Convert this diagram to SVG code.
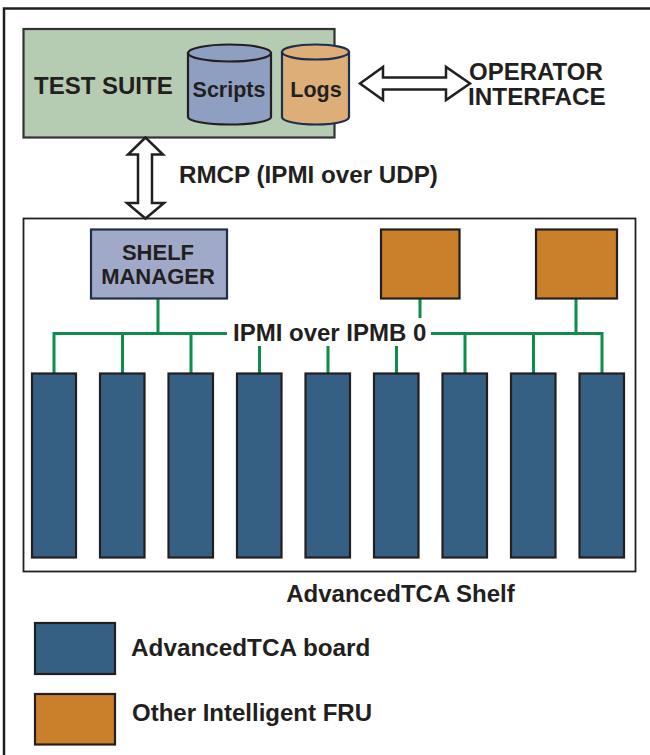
<svg xmlns="http://www.w3.org/2000/svg" width="650" height="755" viewBox="0 0 650 755">
<style>
text{font-family:"Liberation Sans",Arial,sans-serif;font-weight:700;fill:#231f20}
.b{fill:#366083;stroke:#231f20;stroke-width:2.2}
.o{fill:#ca7f2a;stroke:#231f20;stroke-width:2.2}
.g{fill:none;stroke:#0d8c4a;stroke-width:3}
.a{fill:#fff;stroke:#231f20;stroke-width:2.5;stroke-linejoin:miter}
</style>
<rect width="650" height="755" fill="#fff"/>
<path d="M4 755V8.500H650" fill="none" stroke="#231f20" stroke-width="2.500"/>
<g id="test-suite">
<rect x="23.500" y="29" width="311" height="108.500" fill="#b5cbb2" stroke="#333" stroke-width="2.200"/>
<text x="34" y="94" font-size="24">TEST SUITE</text>
</g>
<g id="scripts">
<path d="M188 53V117C188 121 206 124.500 229.500 124.500S271 121 271 117V53Z" fill="#8f9fc2" stroke="#231f20" stroke-width="2.200"/>
<ellipse cx="229.500" cy="53" rx="41.500" ry="8.500" fill="#8f9fc2" stroke="#231f20" stroke-width="2.200"/>
<text x="229" y="97" font-size="21.500" text-anchor="middle">Scripts</text>
</g>
<g id="logs">
<path d="M282 52V117C282 121 296 124.500 316 124.500S349 121 349 117V52Z" fill="#deae78" stroke="#1c2f4d" stroke-width="2.200"/>
<ellipse cx="315.500" cy="52" rx="33.500" ry="7.500" fill="#deae78" stroke="#1c2f4d" stroke-width="2.200"/>
<text x="316" y="97" font-size="21.500" text-anchor="middle">Logs</text>
</g>
<g id="operator-interface">
<text x="469" y="80" font-size="24">OPERATOR</text>
<text x="468" y="104.500" font-size="24.300">INTERFACE</text>
</g>
<g id="shelf">
<rect x="23.500" y="218.500" width="612" height="353" fill="#fff" stroke="#231f20" stroke-width="1.800"/>
<text x="400.500" y="602" font-size="24" text-anchor="middle">AdvancedTCA Shelf</text>
</g>
<g id="connectors">
<path class="g" d="M158 299V333.500M54 373V333.500H227M122.500 333.500V373M191 333.500V373M259.500 346V373M328 346V373M396.500 346V373"/>
<path class="g" d="M420 299V318M431 333.500H602V373M465 333.500V373M533.500 333.500V373M576 299V333.500"/>
<path class="a" d="M145.500 137.500L128 154.500H138V203H127L145.500 218.500L164 203H152V154.500H163Z"/>
<path class="a" d="M360 83.500L383 67V77.500H446V67L470 83.500L446 100V89.500H383V100Z"/>
</g>
<g id="shelf-manager">
<rect x="91" y="229.500" width="136" height="69" fill="#a0aac8" stroke="#1f2f4a" stroke-width="2.200"/>
<text x="158" y="260" font-size="22" text-anchor="middle">SHELF</text>
<text x="158" y="284" font-size="22" text-anchor="middle">MANAGER</text>
</g>
<g id="fru-1"><rect class="o" x="381" y="229.500" width="78.500" height="69"/></g>
<g id="fru-2"><rect class="o" x="536" y="229.500" width="81" height="69"/></g>
<text id="ipmb-label" x="233" y="341" font-size="24">IPMI over IPMB 0</text>
<text id="rmcp-label" x="179" y="183" font-size="24.200">RMCP (IPMI over UDP)</text>
<g id="board-1"><rect class="b" x="32" y="373.500" width="44" height="184"/></g>
<g id="board-2"><rect class="b" x="100" y="373.500" width="44.500" height="184"/></g>
<g id="board-3"><rect class="b" x="168.500" y="373.500" width="44.500" height="184"/></g>
<g id="board-4"><rect class="b" x="237" y="373.500" width="44.500" height="184"/></g>
<g id="board-5"><rect class="b" x="305.500" y="373.500" width="44.500" height="184"/></g>
<g id="board-6"><rect class="b" x="374" y="373.500" width="44.500" height="184"/></g>
<g id="board-7"><rect class="b" x="442.500" y="373.500" width="44.500" height="184"/></g>
<g id="board-8"><rect class="b" x="511" y="373.500" width="44.500" height="184"/></g>
<g id="board-9"><rect class="b" x="579.500" y="373.500" width="44.500" height="184"/></g>
<g id="legend-board">
<rect class="b" x="35" y="623" width="80" height="51"/>
<text x="131" y="656" font-size="24.300">AdvancedTCA board</text>
</g>
<g id="legend-fru">
<rect class="o" x="35" y="694" width="80" height="50.500"/>
<text x="132" y="721" font-size="24">Other Intelligent FRU</text>
</g>
</svg>
